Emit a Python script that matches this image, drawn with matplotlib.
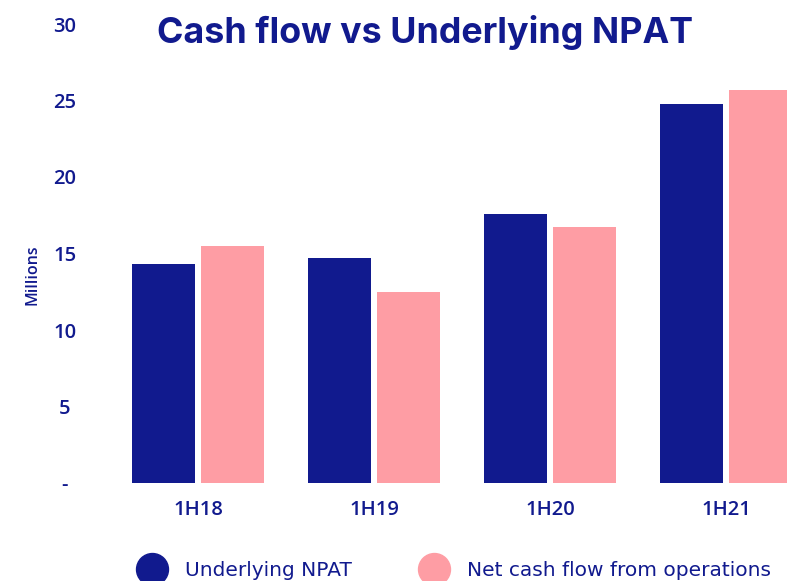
import matplotlib
matplotlib.use("Agg")
import matplotlib.pyplot as plt
from matplotlib.lines import Line2D
import numpy as np

categories = ["1H18", "1H19", "1H20", "1H21"]
npat = [14.3, 14.7, 17.6, 24.8]
cash_flow = [15.5, 12.5, 16.7, 25.7]
series_names = ["Underlying NPAT", "Net cash flow from operations"]
y_ticks = [0, 5, 10, 15, 20, 25, 30]
y_tick_labels = ["-", "5", "10", "15", "20", "25", "30"]

NAVY = "#111A8E"
PINK = "#FE9DA4"
FONT = "Open Sans"

W, H = 787, 581
fig = plt.figure(figsize=(W / 100, H / 100), dpi=100)
ax = fig.add_axes([110 / W, 98 / H, (787 - 110) / W, (483 - 24) / H])

x = np.arange(len(categories))
bw = 0.355
off = 0.197
ax.bar(x - off, npat, width=bw, color=NAVY)
ax.bar(x + off, cash_flow, width=bw, color=PINK)

ax.set_xlim(-0.5, 3.347)
ax.set_ylim(0, 30)
for s in ax.spines.values():
    s.set_visible(False)

ax.set_xticks(x)
ax.set_xticklabels(categories, fontfamily=FONT, fontweight="semibold",
                   fontsize=14.5, color=NAVY)
ax.set_yticks(y_ticks)
ax.set_yticklabels(y_tick_labels, fontfamily=FONT, fontweight="semibold",
                   fontsize=14.5, color=NAVY, ha="center")
ax.tick_params(axis="x", length=0, pad=12.5)
ax.tick_params(axis="y", length=0, pad=32.4)

fig.text(32 / W, 1 - 275 / H, "Millions", rotation=90, ha="center", va="center",
         fontfamily=FONT, fontweight="semibold", fontsize=11.5, color=NAVY)

fig.text(425 / W, 1 - 43 / H, "Cash flow vs Underlying NPAT", ha="center", va="baseline",
         fontfamily="Inter", fontweight="bold", fontsize=25.8, color=NAVY)

handles = [Line2D([], [], marker="o", linestyle="none", markersize=23,
                  markerfacecolor=c, markeredgecolor=c) for c in (NAVY, PINK)]
leg = fig.legend(handles, series_names, loc="center left",
                 bbox_to_anchor=(136 / W, 1 - 571 / H), ncol=2, frameon=False,
                 prop={"family": "DejaVu Sans", "size": 14.5}, labelcolor=NAVY,
                 handlelength=1.6, handletextpad=0.84, columnspacing=3.28,
                 borderpad=0, borderaxespad=0)

fig.savefig("out.png", dpi=100)
